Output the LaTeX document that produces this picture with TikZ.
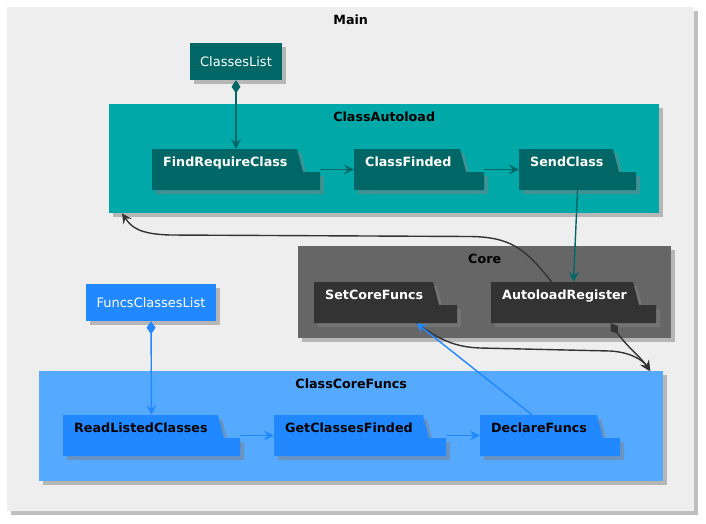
\documentclass[tikz,border=0pt]{standalone}
\usepackage{fontspec}
\setmainfont{DejaVu Sans}
\usepackage{xcolor}
\usetikzlibrary{
    arrows.meta,
    positioning,
    shadows
}

\definecolor{mainbg}{HTML}{EEEEEE}
\definecolor{tealframe}{HTML}{00A8A8}
\definecolor{tealdark}{HTML}{006666}
\definecolor{coreframe}{HTML}{666666}
\definecolor{coredark}{HTML}{333333}
\definecolor{blueframe}{HTML}{55AAFF}
\definecolor{bluedark}{HTML}{2288FF}

\begin{document}
\begin{tikzpicture}[
    x=1pt, y=-1pt,
    font=\fontsize{13}{15}\selectfont,
    frame/.style={
        rectangle,
        anchor=north west,
        inner sep=0pt,
        drop shadow={shadow xshift=4pt, shadow yshift=-4pt, fill=black!50, opacity=0.5}
    },
    ftitle/.style={
        anchor=center,
        yshift=-13pt,
        inner sep=0pt,
        font=\fontsize{12.7}{15}\selectfont\bfseries
    },
    listbox/.style={
        rectangle,
        inner sep=0pt,
        minimum height=37pt,
        text=white,
        drop shadow={shadow xshift=4pt, shadow yshift=-4pt, fill=black!50, opacity=0.5}
    },
    ftext/.style={
        anchor=base west,
        inner sep=0pt,
        font=\fontsize{12.7}{15}\selectfont\bfseries
    },
    pics/folder/.style n args={5}{code={
        \fill[black!50, opacity=0.5] (4,4) -- (#2+4,4) -- (#2+10,27) -- (#1+4,27) -- (#1+4,45) -- (4,45) -- cycle;
        \fill[#4] (0,0) -- (#2,0) -- (#2+6,23) -- (#1,23) -- (#1,41) -- (0,41) -- cycle;
        \node[inner sep=0pt, minimum width=#1, minimum height=41] (-box) at (#1/2,20.5) {};
        \node[ftext, text=#5] (-t) at (11,17) {#3};
    }},
    edge/.style={
        line width=1.4pt,
        -{Stealth[length=10pt,width=10pt,inset=4pt]}
    },
    owns/.style={
        line width=1.4pt,
        {Diamond[length=13pt,width=9pt]}-{Stealth[length=10pt,width=10pt,inset=4pt]}
    }
]
\useasboundingbox (0,0) rectangle (706,523);

% =========================================================
% Frames
% =========================================================
\node[frame, fill=mainbg, minimum width=687, minimum height=504,
      label={[ftitle, name=main-t]north:Main}] (main) at (7,7) {};

\node[frame, fill=tealframe, minimum width=550, minimum height=109,
      label={[ftitle, name=autoload-t]north:ClassAutoload}] (autoload) at (109,104) {};

\node[frame, fill=coreframe, minimum width=373, minimum height=92,
      label={[ftitle, name=core-t]north:Core}] (core) at (298,246) {};

\node[frame, fill=blueframe, minimum width=624, minimum height=110,
      label={[ftitle, name=corefuncs-t]north:ClassCoreFuncs}] (corefuncs) at (39,371) {};

% =========================================================
% Lists
% =========================================================
\node[listbox, fill=tealdark, minimum width=92] (classeslist) at (236,61.5) {ClassesList};
\node[listbox, fill=bluedark, minimum width=130] (funcslist) at (151,302.5) {FuncsClassesList};

% =========================================================
% Folders
% =========================================================
\pic (findreq) at (152,149) {folder={168}{145}{FindRequireClass}{tealdark}{white}};
\pic (classfind) at (354,149) {folder={130}{106}{ClassFinded}{tealdark}{white}};
\pic (sendclass) at (519,149) {folder={117}{94}{SendClass}{tealdark}{white}};

\pic (setcore) at (314,282) {folder={143}{119}{SetCoreFuncs}{coredark}{white}};
\pic (autoreg) at (491,282) {folder={165}{142}{AutoloadRegister}{coredark}{white}};

\pic (readlisted) at (63,415) {folder={177}{155}{ReadListedClasses}{bluedark}{black}};
\pic (getclasses) at (274,415) {folder={172}{149}{GetClassesFinded}{bluedark}{black}};
\pic (declare) at (480,415) {folder={140}{117}{DeclareFuncs}{bluedark}{black}};

% =========================================================
% Relations
% =========================================================
\draw[owns, draw=tealdark] (classeslist) -- (findreq-box);
\draw[edge, draw=tealdark] (findreq-box.east) -- (classfind-box.west);
\draw[edge, draw=tealdark] (classfind-box.east) -- (sendclass-box.west);
\draw[edge, draw=tealdark] (sendclass-box.south) -- (autoreg-box.north);

\draw[edge, draw=coredark] ([xshift=-22]autoreg-box.north) .. controls (525,248) and (510,237) .. (470,236.5)
    -- (170,235) .. controls (140,234) and (132,228) .. ([xshift=13]autoload.south west);
\draw[owns, draw=coredark] ([xshift=37]autoreg-box.south) .. controls (628,348) and (642,358) .. ([xshift=-14]corefuncs.north east);
\draw[edge, draw=coredark] ([xshift=31]setcore-box.south) .. controls (440,340) and (455,347) .. (480,348)
    -- (610,351) .. controls (630,352) and (643,360) .. ([xshift=-13]corefuncs.north east);

\draw[edge, draw=bluedark] ([xshift=-18]declare-box.north) -- ([xshift=31]setcore-box.south);
\draw[owns, draw=bluedark] (funcslist) -- (readlisted-box);
\draw[edge, draw=bluedark] (readlisted-box.east) -- (getclasses-box.west);
\draw[edge, draw=bluedark] (getclasses-box.east) -- (declare-box.west);

\end{tikzpicture}
\end{document}
